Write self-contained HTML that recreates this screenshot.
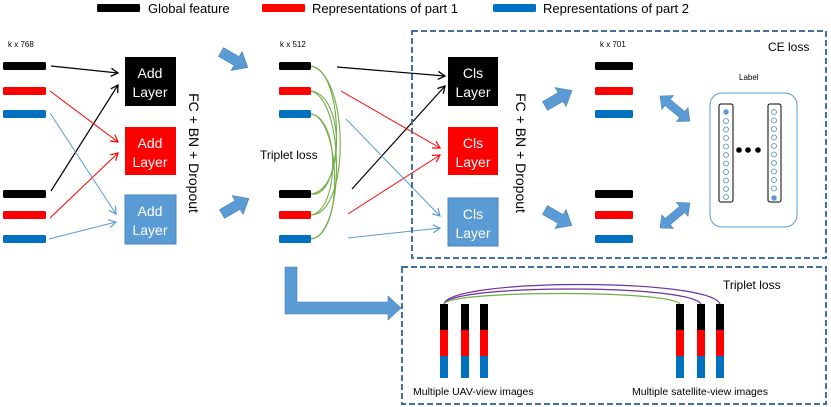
<!DOCTYPE html>
<html><head><style>body{margin:0;background:#fff}svg{display:block}text{font-family:"Liberation Sans",sans-serif}</style></head><body>
<svg width="831" height="407" viewBox="0 0 831 407" xmlns="http://www.w3.org/2000/svg">
<defs>
<marker id="ak" markerWidth="10" markerHeight="10" refX="8" refY="5" orient="auto" markerUnits="userSpaceOnUse"><path d="M1,1 L8,5 L1,9" fill="none" stroke="#000" stroke-width="1.3"/></marker>
<marker id="ar" markerWidth="10" markerHeight="10" refX="8" refY="5" orient="auto" markerUnits="userSpaceOnUse"><path d="M1,1 L8,5 L1,9" fill="none" stroke="#f00" stroke-width="1.2"/></marker>
<marker id="ab" markerWidth="10" markerHeight="10" refX="8" refY="5" orient="auto" markerUnits="userSpaceOnUse"><path d="M1,1 L8,5 L1,9" fill="none" stroke="#5b9bd5" stroke-width="1.2"/></marker>
</defs>
<!-- legend -->
<rect x="97" y="4" width="43" height="8" rx="1.5" fill="#000"/><text x="148" y="13" font-size="13">Global feature</text>
<rect x="262" y="4" width="43" height="8" rx="1.5" fill="#f00"/><text x="312" y="13" font-size="13">Representations of part 1</text>
<rect x="493" y="4" width="43" height="8" rx="1.5" fill="#0070c0"/><text x="543" y="13" font-size="13">Representations of part 2</text>

<text x="8" y="47" font-size="8">k x 768</text>
<text x="280" y="47" font-size="8">k x 512</text>
<text x="600" y="47" font-size="8">k x 701</text>

<g>
<rect x="3" y="62" width="43" height="8" rx="1.5" fill="#000"/><rect x="3" y="87" width="43" height="8" rx="1.5" fill="#f00"/><rect x="3" y="110" width="43" height="8" rx="1.5" fill="#0070c0"/>
<rect x="3" y="190" width="43" height="8" rx="1.5" fill="#000"/><rect x="3" y="211" width="43" height="8" rx="1.5" fill="#f00"/><rect x="3" y="235" width="43" height="8" rx="1.5" fill="#0070c0"/>
<rect x="279" y="62" width="32" height="8" rx="1.5" fill="#000"/><rect x="279" y="87" width="32" height="8" rx="1.5" fill="#f00"/><rect x="279" y="110" width="32" height="8" rx="1.5" fill="#0070c0"/>
<rect x="279" y="190" width="32" height="8" rx="1.5" fill="#000"/><rect x="279" y="211" width="32" height="8" rx="1.5" fill="#f00"/><rect x="279" y="235" width="32" height="8" rx="1.5" fill="#0070c0"/>
<rect x="595" y="62" width="38" height="8" rx="1.5" fill="#000"/><rect x="595" y="87" width="38" height="8" rx="1.5" fill="#f00"/><rect x="595" y="110" width="38" height="8" rx="1.5" fill="#0070c0"/>
<rect x="595" y="190" width="38" height="8" rx="1.5" fill="#000"/><rect x="595" y="211" width="38" height="8" rx="1.5" fill="#f00"/><rect x="595" y="235" width="38" height="8" rx="1.5" fill="#0070c0"/>
</g>

<line x1="51" y1="66" x2="118" y2="73" stroke="#000" stroke-width="1.2" marker-end="url(#ak)"/>
<line x1="51" y1="191" x2="118" y2="85" stroke="#000" stroke-width="1.2" marker-end="url(#ak)"/>
<line x1="50" y1="91" x2="118" y2="142" stroke="#f00" stroke-width="1" marker-end="url(#ar)"/>
<line x1="50" y1="218" x2="118" y2="153" stroke="#f00" stroke-width="1" marker-end="url(#ar)"/>
<line x1="50" y1="113" x2="116" y2="214" stroke="#5b9bd5" stroke-width="1" marker-end="url(#ab)"/>
<line x1="49" y1="239" x2="116" y2="222" stroke="#5b9bd5" stroke-width="1" marker-end="url(#ab)"/>

<rect x="125" y="57" width="51" height="49" fill="#000"/>
<rect x="125" y="127" width="51" height="48" fill="#f00"/>
<rect x="125" y="195" width="51" height="49" fill="#5b9bd5" stroke="#4a86c0"/>

<text transform="translate(189,153) rotate(90)" font-size="14" text-anchor="middle">FC + BN + Dropout</text>
<text transform="translate(516,153) rotate(90)" font-size="14" text-anchor="middle">FC + BN + Dropout</text>

<!-- block arrows -->
<g fill="#5b9bd5" stroke="#4a7fb5" stroke-width="0.6">
<polygon transform="translate(221,52) rotate(30)" points="0,-5 18,-5 18,-11 31,0 18,11 18,5 0,5"/>
<polygon transform="translate(222,214) rotate(-30)" points="0,-5 18,-5 18,-11 31,0 18,11 18,5 0,5"/>
<polygon transform="translate(545,106) rotate(-30)" points="0,-5 18,-5 18,-11 31,0 18,11 18,5 0,5"/>
<polygon transform="translate(545,210) rotate(30)" points="0,-5 18,-5 18,-11 31,0 18,11 18,5 0,5"/>
<polygon transform="translate(660,96) rotate(40)" points="0,0 10,-9 10,-4 29,-4 29,-9 39,0 29,9 29,4 10,4 10,9"/>
<polygon transform="translate(660,228) rotate(-40)" points="0,0 10,-9 10,-4 29,-4 29,-9 39,0 29,9 29,4 10,4 10,9"/>
<polygon points="285,267 297,267 297,302 388,302 388,296 401,308 388,320 388,314 285,314"/>
</g>

<text x="260" y="159" font-size="12">Triplet loss</text>
<g fill="none" stroke="#70ad47" stroke-width="1.1">
<path d="M311,66 C345,70 345,200 311,194"/>
<path d="M311,66 C350,75 350,215 311,215"/>
<path d="M311,91 C345,95 345,190 311,194"/>
<path d="M311,91 C345,100 345,235 311,239"/>
<path d="M311,114 C340,118 340,210 311,215"/>
<path d="M311,114 C340,118 345,235 311,239"/>
</g>

<line x1="337" y1="67" x2="445" y2="76" stroke="#000" stroke-width="1.2" marker-end="url(#ak)"/>
<line x1="352" y1="189" x2="445" y2="86" stroke="#000" stroke-width="1.2" marker-end="url(#ak)"/>
<line x1="341" y1="91" x2="440" y2="148" stroke="#f00" stroke-width="1" marker-end="url(#ar)"/>
<line x1="348" y1="214" x2="440" y2="155" stroke="#f00" stroke-width="1" marker-end="url(#ar)"/>
<line x1="346" y1="119" x2="440" y2="216" stroke="#5b9bd5" stroke-width="1" marker-end="url(#ab)"/>
<line x1="348" y1="238" x2="440" y2="228" stroke="#5b9bd5" stroke-width="1" marker-end="url(#ab)"/>

<rect x="448" y="57" width="50" height="49" fill="#000"/>
<rect x="448" y="127" width="50" height="48" fill="#f00"/>
<rect x="448" y="198" width="50" height="48" fill="#5b9bd5" stroke="#4a86c0"/>

<g fill="#fff" font-size="14" text-anchor="middle">
<text x="150" y="78">Add</text><text x="150" y="97">Layer</text>
<text x="150" y="148">Add</text><text x="150" y="167">Layer</text>
<text x="150" y="216">Add</text><text x="150" y="235">Layer</text>
<text x="473" y="78">Cls</text><text x="473" y="97">Layer</text>
<text x="473" y="148">Cls</text><text x="473" y="167">Layer</text>
<text x="473" y="219">Cls</text><text x="473" y="238">Layer</text>
</g>

<rect x="412" y="31" width="414" height="227" fill="none" stroke="#41719c" stroke-width="2" stroke-dasharray="6,3"/>
<text x="768" y="51" font-size="12">CE loss</text>
<text x="739" y="80" font-size="8">Label</text>
<rect x="710" y="93" width="87" height="134" rx="12" fill="none" stroke="#5b9bd5"/>
<rect x="719" y="104" width="14" height="98" rx="2" fill="none" stroke="#000"/>
<rect x="768" y="104" width="13" height="98" rx="2" fill="none" stroke="#000"/>
<g fill="none" stroke="#4a86c0" stroke-width="0.8">
<circle cx="726" cy="121" r="2.5"/><circle cx="726" cy="129.5" r="2.5"/><circle cx="726" cy="138" r="2.5"/><circle cx="726" cy="146.5" r="2.5"/><circle cx="726" cy="155" r="2.5"/><circle cx="726" cy="163.5" r="2.5"/><circle cx="726" cy="172" r="2.5"/><circle cx="726" cy="180.5" r="2.5"/><circle cx="726" cy="189" r="2.5"/><circle cx="726" cy="197" r="2.5"/>
<circle cx="774" cy="112" r="2.5"/><circle cx="774" cy="120.5" r="2.5"/><circle cx="774" cy="129" r="2.5"/><circle cx="774" cy="137.5" r="2.5"/><circle cx="774" cy="146" r="2.5"/><circle cx="774" cy="154.5" r="2.5"/><circle cx="774" cy="163" r="2.5"/><circle cx="774" cy="171.5" r="2.5"/><circle cx="774" cy="180" r="2.5"/><circle cx="774" cy="188.5" r="2.5"/>
</g>
<circle cx="726" cy="112" r="2.7" fill="#5b9bd5"/><circle cx="774" cy="198" r="2.7" fill="#5b9bd5"/>
<circle cx="739" cy="150" r="2.8"/><circle cx="748" cy="150" r="2.8"/><circle cx="758" cy="150" r="2.8"/>

<rect x="402" y="267" width="424" height="137" fill="none" stroke="#41719c" stroke-width="2" stroke-dasharray="6,3"/>
<text x="723" y="289" font-size="12">Triplet loss</text>
<g fill="none" stroke-width="1.2">
<path d="M444,304 C450,278 710,278 720,304" stroke="#7030a0"/>
<path d="M444,304 C450,284 690,284 701,304" stroke="#7030a0"/>
<path d="M444,304 C450,290 670,290 680,304" stroke="#70ad47"/>
</g>
<g>
<rect x="440" y="304" width="8" height="26" fill="#000"/><rect x="440" y="330" width="8" height="26" fill="#f00"/><rect x="440" y="356" width="8" height="22" fill="#0070c0"/>
<rect x="461" y="304" width="8" height="26" fill="#000"/><rect x="461" y="330" width="8" height="26" fill="#f00"/><rect x="461" y="356" width="8" height="22" fill="#0070c0"/>
<rect x="480" y="304" width="8" height="26" fill="#000"/><rect x="480" y="330" width="8" height="26" fill="#f00"/><rect x="480" y="356" width="8" height="22" fill="#0070c0"/>
<rect x="676" y="304" width="8" height="26" fill="#000"/><rect x="676" y="330" width="8" height="26" fill="#f00"/><rect x="676" y="356" width="8" height="22" fill="#0070c0"/>
<rect x="697" y="304" width="8" height="26" fill="#000"/><rect x="697" y="330" width="8" height="26" fill="#f00"/><rect x="697" y="356" width="8" height="22" fill="#0070c0"/>
<rect x="716" y="304" width="8" height="26" fill="#000"/><rect x="716" y="330" width="8" height="26" fill="#f00"/><rect x="716" y="356" width="8" height="22" fill="#0070c0"/>
</g>
<text x="413" y="395" font-size="10.5">Multiple UAV-view images</text>
<text x="632" y="395" font-size="10.5">Multiple satellite-view images</text>
</svg>
</body></html>
